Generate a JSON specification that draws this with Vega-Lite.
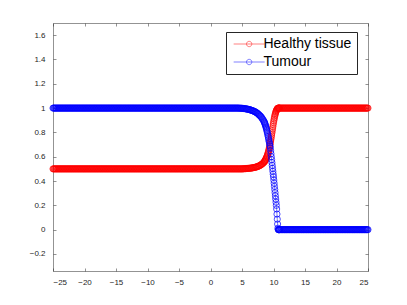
{
"$schema": "https://vega.github.io/schema/vega-lite/v6.json",
"width": 315, "height": 248,
"autosize": {"type": "none"},
"padding": {"left": 53, "top": 23, "right": 39, "bottom": 34},
"background": "white",
"config": {"view": {"stroke": null}, "font": "Liberation Sans"},
"data": {"values": [
{"x":-25,"h":0.5,"t":1},{"x":-24.9,"h":0.5,"t":1},{"x":-24.8,"h":0.5,"t":1},{"x":-24.7,"h":0.5,"t":1},{"x":-24.6,"h":0.5,"t":1},{"x":-24.5,"h":0.5,"t":1},{"x":-24.4,"h":0.5,"t":1},{"x":-24.3,"h":0.5,"t":1},{"x":-24.2,"h":0.5,"t":1},{"x":-24.1,"h":0.5,"t":1},
{"x":-24,"h":0.5,"t":1},{"x":-23.9,"h":0.5,"t":1},{"x":-23.8,"h":0.5,"t":1},{"x":-23.7,"h":0.5,"t":1},{"x":-23.6,"h":0.5,"t":1},{"x":-23.5,"h":0.5,"t":1},{"x":-23.4,"h":0.5,"t":1},{"x":-23.3,"h":0.5,"t":1},{"x":-23.2,"h":0.5,"t":1},{"x":-23.1,"h":0.5,"t":1},
{"x":-23,"h":0.5,"t":1},{"x":-22.9,"h":0.5,"t":1},{"x":-22.8,"h":0.5,"t":1},{"x":-22.7,"h":0.5,"t":1},{"x":-22.6,"h":0.5,"t":1},{"x":-22.5,"h":0.5,"t":1},{"x":-22.4,"h":0.5,"t":1},{"x":-22.3,"h":0.5,"t":1},{"x":-22.2,"h":0.5,"t":1},{"x":-22.1,"h":0.5,"t":1},
{"x":-22,"h":0.5,"t":1},{"x":-21.9,"h":0.5,"t":1},{"x":-21.8,"h":0.5,"t":1},{"x":-21.7,"h":0.5,"t":1},{"x":-21.6,"h":0.5,"t":1},{"x":-21.5,"h":0.5,"t":1},{"x":-21.4,"h":0.5,"t":1},{"x":-21.3,"h":0.5,"t":1},{"x":-21.2,"h":0.5,"t":1},{"x":-21.1,"h":0.5,"t":1},
{"x":-21,"h":0.5,"t":1},{"x":-20.9,"h":0.5,"t":1},{"x":-20.8,"h":0.5,"t":1},{"x":-20.7,"h":0.5,"t":1},{"x":-20.6,"h":0.5,"t":1},{"x":-20.5,"h":0.5,"t":1},{"x":-20.4,"h":0.5,"t":1},{"x":-20.3,"h":0.5,"t":1},{"x":-20.2,"h":0.5,"t":1},{"x":-20.1,"h":0.5,"t":1},
{"x":-20,"h":0.5,"t":1},{"x":-19.9,"h":0.5,"t":1},{"x":-19.8,"h":0.5,"t":1},{"x":-19.7,"h":0.5,"t":1},{"x":-19.6,"h":0.5,"t":1},{"x":-19.5,"h":0.5,"t":1},{"x":-19.4,"h":0.5,"t":1},{"x":-19.3,"h":0.5,"t":1},{"x":-19.2,"h":0.5,"t":1},{"x":-19.1,"h":0.5,"t":1},
{"x":-19,"h":0.5,"t":1},{"x":-18.9,"h":0.5,"t":1},{"x":-18.8,"h":0.5,"t":1},{"x":-18.7,"h":0.5,"t":1},{"x":-18.6,"h":0.5,"t":1},{"x":-18.5,"h":0.5,"t":1},{"x":-18.4,"h":0.5,"t":1},{"x":-18.3,"h":0.5,"t":1},{"x":-18.2,"h":0.5,"t":1},{"x":-18.1,"h":0.5,"t":1},
{"x":-18,"h":0.5,"t":1},{"x":-17.9,"h":0.5,"t":1},{"x":-17.8,"h":0.5,"t":1},{"x":-17.7,"h":0.5,"t":1},{"x":-17.6,"h":0.5,"t":1},{"x":-17.5,"h":0.5,"t":1},{"x":-17.4,"h":0.5,"t":1},{"x":-17.3,"h":0.5,"t":1},{"x":-17.2,"h":0.5,"t":1},{"x":-17.1,"h":0.5,"t":1},
{"x":-17,"h":0.5,"t":1},{"x":-16.9,"h":0.5,"t":1},{"x":-16.8,"h":0.5,"t":1},{"x":-16.7,"h":0.5,"t":1},{"x":-16.6,"h":0.5,"t":1},{"x":-16.5,"h":0.5,"t":1},{"x":-16.4,"h":0.5,"t":1},{"x":-16.3,"h":0.5,"t":1},{"x":-16.2,"h":0.5,"t":1},{"x":-16.1,"h":0.5,"t":1},
{"x":-16,"h":0.5,"t":1},{"x":-15.9,"h":0.5,"t":1},{"x":-15.8,"h":0.5,"t":1},{"x":-15.7,"h":0.5,"t":1},{"x":-15.6,"h":0.5,"t":1},{"x":-15.5,"h":0.5,"t":1},{"x":-15.4,"h":0.5,"t":1},{"x":-15.3,"h":0.5,"t":1},{"x":-15.2,"h":0.5,"t":1},{"x":-15.1,"h":0.5,"t":1},
{"x":-15,"h":0.5,"t":1},{"x":-14.9,"h":0.5,"t":1},{"x":-14.8,"h":0.5,"t":1},{"x":-14.7,"h":0.5,"t":1},{"x":-14.6,"h":0.5,"t":1},{"x":-14.5,"h":0.5,"t":1},{"x":-14.4,"h":0.5,"t":1},{"x":-14.3,"h":0.5,"t":1},{"x":-14.2,"h":0.5,"t":1},{"x":-14.1,"h":0.5,"t":1},
{"x":-14,"h":0.5,"t":1},{"x":-13.9,"h":0.5,"t":1},{"x":-13.8,"h":0.5,"t":1},{"x":-13.7,"h":0.5,"t":1},{"x":-13.6,"h":0.5,"t":1},{"x":-13.5,"h":0.5,"t":1},{"x":-13.4,"h":0.5,"t":1},{"x":-13.3,"h":0.5,"t":1},{"x":-13.2,"h":0.5,"t":1},{"x":-13.1,"h":0.5,"t":1},
{"x":-13,"h":0.5,"t":1},{"x":-12.9,"h":0.5,"t":1},{"x":-12.8,"h":0.5,"t":1},{"x":-12.7,"h":0.5,"t":1},{"x":-12.6,"h":0.5,"t":1},{"x":-12.5,"h":0.5,"t":1},{"x":-12.4,"h":0.5,"t":1},{"x":-12.3,"h":0.5,"t":1},{"x":-12.2,"h":0.5,"t":1},{"x":-12.1,"h":0.5,"t":1},
{"x":-12,"h":0.5,"t":1},{"x":-11.9,"h":0.5,"t":1},{"x":-11.8,"h":0.5,"t":1},{"x":-11.7,"h":0.5,"t":1},{"x":-11.6,"h":0.5,"t":1},{"x":-11.5,"h":0.5,"t":1},{"x":-11.4,"h":0.5,"t":1},{"x":-11.3,"h":0.5,"t":1},{"x":-11.2,"h":0.5,"t":1},{"x":-11.1,"h":0.5,"t":1},
{"x":-11,"h":0.5,"t":1},{"x":-10.9,"h":0.5,"t":1},{"x":-10.8,"h":0.5,"t":1},{"x":-10.7,"h":0.5,"t":1},{"x":-10.6,"h":0.5,"t":1},{"x":-10.5,"h":0.5,"t":1},{"x":-10.4,"h":0.5,"t":1},{"x":-10.3,"h":0.5,"t":1},{"x":-10.2,"h":0.5,"t":1},{"x":-10.1,"h":0.5,"t":1},
{"x":-10,"h":0.5,"t":1},{"x":-9.9,"h":0.5,"t":1},{"x":-9.8,"h":0.5,"t":1},{"x":-9.7,"h":0.5,"t":1},{"x":-9.6,"h":0.5,"t":1},{"x":-9.5,"h":0.5,"t":1},{"x":-9.4,"h":0.5,"t":1},{"x":-9.3,"h":0.5,"t":1},{"x":-9.2,"h":0.5,"t":1},{"x":-9.1,"h":0.5,"t":1},
{"x":-9,"h":0.5,"t":1},{"x":-8.9,"h":0.5,"t":1},{"x":-8.8,"h":0.5,"t":1},{"x":-8.7,"h":0.5,"t":1},{"x":-8.6,"h":0.5,"t":1},{"x":-8.5,"h":0.5,"t":1},{"x":-8.4,"h":0.5,"t":1},{"x":-8.3,"h":0.5,"t":1},{"x":-8.2,"h":0.5,"t":1},{"x":-8.1,"h":0.5,"t":1},
{"x":-8,"h":0.5,"t":1},{"x":-7.9,"h":0.5,"t":1},{"x":-7.8,"h":0.5,"t":1},{"x":-7.7,"h":0.5,"t":1},{"x":-7.6,"h":0.5,"t":1},{"x":-7.5,"h":0.5,"t":1},{"x":-7.4,"h":0.5,"t":1},{"x":-7.3,"h":0.5,"t":1},{"x":-7.2,"h":0.5,"t":1},{"x":-7.1,"h":0.5,"t":1},
{"x":-7,"h":0.5,"t":1},{"x":-6.9,"h":0.5,"t":1},{"x":-6.8,"h":0.5,"t":1},{"x":-6.7,"h":0.5,"t":1},{"x":-6.6,"h":0.5,"t":1},{"x":-6.5,"h":0.5,"t":1},{"x":-6.4,"h":0.5,"t":1},{"x":-6.3,"h":0.5,"t":1},{"x":-6.2,"h":0.5,"t":1},{"x":-6.1,"h":0.5,"t":1},
{"x":-6,"h":0.5,"t":1},{"x":-5.9,"h":0.5,"t":1},{"x":-5.8,"h":0.5,"t":1},{"x":-5.7,"h":0.5,"t":1},{"x":-5.6,"h":0.5,"t":1},{"x":-5.5,"h":0.5,"t":1},{"x":-5.4,"h":0.5,"t":1},{"x":-5.3,"h":0.5,"t":1},{"x":-5.2,"h":0.5,"t":1},{"x":-5.1,"h":0.5,"t":1},
{"x":-5,"h":0.5,"t":1},{"x":-4.9,"h":0.5,"t":1},{"x":-4.8,"h":0.5,"t":1},{"x":-4.7,"h":0.5,"t":1},{"x":-4.6,"h":0.5,"t":1},{"x":-4.5,"h":0.5,"t":1},{"x":-4.4,"h":0.5,"t":1},{"x":-4.3,"h":0.5,"t":1},{"x":-4.2,"h":0.5,"t":1},{"x":-4.1,"h":0.5,"t":1},
{"x":-4,"h":0.5,"t":1},{"x":-3.9,"h":0.5,"t":1},{"x":-3.8,"h":0.5,"t":1},{"x":-3.7,"h":0.5,"t":1},{"x":-3.6,"h":0.5,"t":1},{"x":-3.5,"h":0.5,"t":1},{"x":-3.4,"h":0.5,"t":1},{"x":-3.3,"h":0.5,"t":1},{"x":-3.2,"h":0.5,"t":1},{"x":-3.1,"h":0.5,"t":1},
{"x":-3,"h":0.5,"t":1},{"x":-2.9,"h":0.5,"t":1},{"x":-2.8,"h":0.5,"t":1},{"x":-2.7,"h":0.5,"t":1},{"x":-2.6,"h":0.5,"t":1},{"x":-2.5,"h":0.5,"t":1},{"x":-2.4,"h":0.5,"t":1},{"x":-2.3,"h":0.5,"t":1},{"x":-2.2,"h":0.5,"t":1},{"x":-2.1,"h":0.5,"t":1},
{"x":-2,"h":0.5,"t":1},{"x":-1.9,"h":0.5,"t":1},{"x":-1.8,"h":0.5,"t":1},{"x":-1.7,"h":0.5,"t":1},{"x":-1.6,"h":0.5,"t":1},{"x":-1.5,"h":0.5,"t":1},{"x":-1.4,"h":0.5,"t":1},{"x":-1.3,"h":0.5,"t":1},{"x":-1.2,"h":0.5,"t":1},{"x":-1.1,"h":0.5,"t":1},
{"x":-1,"h":0.5,"t":1},{"x":-0.9,"h":0.5,"t":1},{"x":-0.8,"h":0.5,"t":1},{"x":-0.7,"h":0.5,"t":1},{"x":-0.6,"h":0.5,"t":1},{"x":-0.5,"h":0.5,"t":1},{"x":-0.4,"h":0.5,"t":1},{"x":-0.3,"h":0.5,"t":1},{"x":-0.2,"h":0.5,"t":1},{"x":-0.1,"h":0.5,"t":1},
{"x":0,"h":0.5,"t":1},{"x":0.1,"h":0.5,"t":1},{"x":0.2,"h":0.5,"t":1},{"x":0.3,"h":0.5,"t":1},{"x":0.4,"h":0.5,"t":1},{"x":0.5,"h":0.5,"t":1},{"x":0.6,"h":0.5,"t":1},{"x":0.7,"h":0.5,"t":1},{"x":0.8,"h":0.5,"t":1},{"x":0.9,"h":0.5,"t":1},
{"x":1,"h":0.5,"t":1},{"x":1.1,"h":0.5,"t":1},{"x":1.2,"h":0.5,"t":1},{"x":1.3,"h":0.5,"t":1},{"x":1.4,"h":0.5,"t":1},{"x":1.5,"h":0.5,"t":1},{"x":1.6,"h":0.5,"t":1},{"x":1.7,"h":0.5,"t":1},{"x":1.8,"h":0.5,"t":1},{"x":1.9,"h":0.5,"t":1},
{"x":2,"h":0.5,"t":1},{"x":2.1,"h":0.5,"t":1},{"x":2.2,"h":0.5,"t":1},{"x":2.3,"h":0.5,"t":1},{"x":2.4,"h":0.5,"t":1},{"x":2.5,"h":0.5,"t":1},{"x":2.6,"h":0.5,"t":1},{"x":2.7,"h":0.5,"t":1},{"x":2.8,"h":0.5,"t":1},{"x":2.9,"h":0.5,"t":1},
{"x":3,"h":0.5,"t":1},{"x":3.1,"h":0.5,"t":1},{"x":3.2,"h":0.5,"t":1},{"x":3.3,"h":0.5,"t":1},{"x":3.4,"h":0.5,"t":1},{"x":3.5,"h":0.5,"t":1},{"x":3.6,"h":0.5,"t":1},{"x":3.7,"h":0.5,"t":1},{"x":3.8,"h":0.5,"t":1},{"x":3.9,"h":0.5,"t":1},
{"x":4,"h":0.5,"t":1},{"x":4.1,"h":0.5,"t":1},{"x":4.2,"h":0.5,"t":1},{"x":4.3,"h":0.5,"t":1},{"x":4.4,"h":0.5,"t":1},{"x":4.5,"h":0.5,"t":1},{"x":4.6,"h":0.5,"t":0.999},{"x":4.7,"h":0.5,"t":0.999},{"x":4.8,"h":0.5,"t":0.999},{"x":4.9,"h":0.5,"t":0.999},
{"x":5.0,"h":0.5,"t":0.998},{"x":5.1,"h":0.5,"t":0.998},{"x":5.2,"h":0.501,"t":0.997},{"x":5.3,"h":0.501,"t":0.996},{"x":5.4,"h":0.502,"t":0.996},{"x":5.5,"h":0.502,"t":0.995},{"x":5.6,"h":0.502,"t":0.994},{"x":5.7,"h":0.503,"t":0.993},{"x":5.8,"h":0.503,"t":0.992},{"x":5.9,"h":0.504,"t":0.991},{"x":6.0,"h":0.504,"t":0.99},{"x":6.1,"h":0.505,"t":0.989},{"x":6.2,"h":0.505,"t":0.987},{"x":6.3,"h":0.506,"t":0.986},{"x":6.4,"h":0.506,"t":0.984},{"x":6.5,"h":0.507,"t":0.982},{"x":6.6,"h":0.508,"t":0.98},{"x":6.7,"h":0.509,"t":0.978},{"x":6.8,"h":0.51,"t":0.976},{"x":6.9,"h":0.511,"t":0.974},{"x":7.0,"h":0.512,"t":0.972},{"x":7.1,"h":0.513,"t":0.969},{"x":7.2,"h":0.515,"t":0.966},{"x":7.3,"h":0.516,"t":0.962},{"x":7.4,"h":0.518,"t":0.959},{"x":7.5,"h":0.52,"t":0.955},{"x":7.6,"h":0.522,"t":0.95},{"x":7.7,"h":0.524,"t":0.945},{"x":7.8,"h":0.527,"t":0.94},{"x":7.9,"h":0.53,"t":0.935},{"x":8.0,"h":0.533,"t":0.93},{"x":8.1,"h":0.537,"t":0.923},{"x":8.2,"h":0.541,"t":0.915},{"x":8.3,"h":0.545,"t":0.907},{"x":8.4,"h":0.55,"t":0.899},
{"x":8.5,"h":0.555,"t":0.89},{"x":8.55,"h":0.559,"t":0.884},{"x":8.6,"h":0.563,"t":0.877},{"x":8.65,"h":0.567,"t":0.87},{"x":8.7,"h":0.572,"t":0.862},{"x":8.75,"h":0.577,"t":0.854},{"x":8.8,"h":0.582,"t":0.845},{"x":8.85,"h":0.588,"t":0.836},{"x":8.9,"h":0.594,"t":0.826},{"x":8.95,"h":0.6,"t":0.815},{"x":9.0,"h":0.607,"t":0.804},{"x":9.05,"h":0.615,"t":0.792},{"x":9.1,"h":0.623,"t":0.78},{"x":9.15,"h":0.632,"t":0.767},{"x":9.2,"h":0.642,"t":0.754},{"x":9.25,"h":0.652,"t":0.74},{"x":9.3,"h":0.663,"t":0.727},{"x":9.35,"h":0.675,"t":0.714},{"x":9.4,"h":0.688,"t":0.7},{"x":9.45,"h":0.701,"t":0.686},{"x":9.5,"h":0.715,"t":0.672},{"x":9.55,"h":0.73,"t":0.648},{"x":9.6,"h":0.746,"t":0.624},{"x":9.65,"h":0.762,"t":0.6},{"x":9.7,"h":0.779,"t":0.576},{"x":9.75,"h":0.796,"t":0.552},{"x":9.8,"h":0.813,"t":0.528},{"x":9.85,"h":0.83,"t":0.504},{"x":9.9,"h":0.847,"t":0.48},{"x":9.95,"h":0.864,"t":0.456},{"x":10.0,"h":0.88,"t":0.434},{"x":10.05,"h":0.895,"t":0.408},{"x":10.1,"h":0.909,"t":0.382},{"x":10.15,"h":0.922,"t":0.356},{"x":10.2,"h":0.934,"t":0.33},{"x":10.25,"h":0.945,"t":0.304},{"x":10.3,"h":0.955,"t":0.278},{"x":10.35,"h":0.964,"t":0.252},{"x":10.4,"h":0.972,"t":0.226},{"x":10.45,"h":0.979,"t":0.2},{"x":10.5,"h":0.985,"t":0.17},{"x":10.55,"h":0.99,"t":0.128},{"x":10.6,"h":0.994,"t":0.086},{"x":10.65,"h":0.997,"t":0.046},{"x":10.7,"h":0.999,"t":0.012},{"x":10.75,"h":1,"t":0},{"x":10.8,"h":1,"t":0},{"x":10.85,"h":1,"t":0},{"x":10.9,"h":1,"t":0},{"x":10.95,"h":1,"t":0},
{"x":11,"h":1,"t":0},{"x":11.1,"h":1,"t":0},{"x":11.2,"h":1,"t":0},{"x":11.3,"h":1,"t":0},{"x":11.4,"h":1,"t":0},{"x":11.5,"h":1,"t":0},{"x":11.6,"h":1,"t":0},{"x":11.7,"h":1,"t":0},{"x":11.8,"h":1,"t":0},{"x":11.9,"h":1,"t":0},
{"x":12,"h":1,"t":0},{"x":12.1,"h":1,"t":0},{"x":12.2,"h":1,"t":0},{"x":12.3,"h":1,"t":0},{"x":12.4,"h":1,"t":0},{"x":12.5,"h":1,"t":0},{"x":12.6,"h":1,"t":0},{"x":12.7,"h":1,"t":0},{"x":12.8,"h":1,"t":0},{"x":12.9,"h":1,"t":0},
{"x":13,"h":1,"t":0},{"x":13.1,"h":1,"t":0},{"x":13.2,"h":1,"t":0},{"x":13.3,"h":1,"t":0},{"x":13.4,"h":1,"t":0},{"x":13.5,"h":1,"t":0},{"x":13.6,"h":1,"t":0},{"x":13.7,"h":1,"t":0},{"x":13.8,"h":1,"t":0},{"x":13.9,"h":1,"t":0},
{"x":14,"h":1,"t":0},{"x":14.1,"h":1,"t":0},{"x":14.2,"h":1,"t":0},{"x":14.3,"h":1,"t":0},{"x":14.4,"h":1,"t":0},{"x":14.5,"h":1,"t":0},{"x":14.6,"h":1,"t":0},{"x":14.7,"h":1,"t":0},{"x":14.8,"h":1,"t":0},{"x":14.9,"h":1,"t":0},
{"x":15,"h":1,"t":0},{"x":15.1,"h":1,"t":0},{"x":15.2,"h":1,"t":0},{"x":15.3,"h":1,"t":0},{"x":15.4,"h":1,"t":0},{"x":15.5,"h":1,"t":0},{"x":15.6,"h":1,"t":0},{"x":15.7,"h":1,"t":0},{"x":15.8,"h":1,"t":0},{"x":15.9,"h":1,"t":0},
{"x":16,"h":1,"t":0},{"x":16.1,"h":1,"t":0},{"x":16.2,"h":1,"t":0},{"x":16.3,"h":1,"t":0},{"x":16.4,"h":1,"t":0},{"x":16.5,"h":1,"t":0},{"x":16.6,"h":1,"t":0},{"x":16.7,"h":1,"t":0},{"x":16.8,"h":1,"t":0},{"x":16.9,"h":1,"t":0},
{"x":17,"h":1,"t":0},{"x":17.1,"h":1,"t":0},{"x":17.2,"h":1,"t":0},{"x":17.3,"h":1,"t":0},{"x":17.4,"h":1,"t":0},{"x":17.5,"h":1,"t":0},{"x":17.6,"h":1,"t":0},{"x":17.7,"h":1,"t":0},{"x":17.8,"h":1,"t":0},{"x":17.9,"h":1,"t":0},
{"x":18,"h":1,"t":0},{"x":18.1,"h":1,"t":0},{"x":18.2,"h":1,"t":0},{"x":18.3,"h":1,"t":0},{"x":18.4,"h":1,"t":0},{"x":18.5,"h":1,"t":0},{"x":18.6,"h":1,"t":0},{"x":18.7,"h":1,"t":0},{"x":18.8,"h":1,"t":0},{"x":18.9,"h":1,"t":0},
{"x":19,"h":1,"t":0},{"x":19.1,"h":1,"t":0},{"x":19.2,"h":1,"t":0},{"x":19.3,"h":1,"t":0},{"x":19.4,"h":1,"t":0},{"x":19.5,"h":1,"t":0},{"x":19.6,"h":1,"t":0},{"x":19.7,"h":1,"t":0},{"x":19.8,"h":1,"t":0},{"x":19.9,"h":1,"t":0},
{"x":20,"h":1,"t":0},{"x":20.1,"h":1,"t":0},{"x":20.2,"h":1,"t":0},{"x":20.3,"h":1,"t":0},{"x":20.4,"h":1,"t":0},{"x":20.5,"h":1,"t":0},{"x":20.6,"h":1,"t":0},{"x":20.7,"h":1,"t":0},{"x":20.8,"h":1,"t":0},{"x":20.9,"h":1,"t":0},
{"x":21,"h":1,"t":0},{"x":21.1,"h":1,"t":0},{"x":21.2,"h":1,"t":0},{"x":21.3,"h":1,"t":0},{"x":21.4,"h":1,"t":0},{"x":21.5,"h":1,"t":0},{"x":21.6,"h":1,"t":0},{"x":21.7,"h":1,"t":0},{"x":21.8,"h":1,"t":0},{"x":21.9,"h":1,"t":0},
{"x":22,"h":1,"t":0},{"x":22.1,"h":1,"t":0},{"x":22.2,"h":1,"t":0},{"x":22.3,"h":1,"t":0},{"x":22.4,"h":1,"t":0},{"x":22.5,"h":1,"t":0},{"x":22.6,"h":1,"t":0},{"x":22.7,"h":1,"t":0},{"x":22.8,"h":1,"t":0},{"x":22.9,"h":1,"t":0},
{"x":23,"h":1,"t":0},{"x":23.1,"h":1,"t":0},{"x":23.2,"h":1,"t":0},{"x":23.3,"h":1,"t":0},{"x":23.4,"h":1,"t":0},{"x":23.5,"h":1,"t":0},{"x":23.6,"h":1,"t":0},{"x":23.7,"h":1,"t":0},{"x":23.8,"h":1,"t":0},{"x":23.9,"h":1,"t":0},
{"x":24,"h":1,"t":0},{"x":24.1,"h":1,"t":0},{"x":24.2,"h":1,"t":0},{"x":24.3,"h":1,"t":0},{"x":24.4,"h":1,"t":0},{"x":24.5,"h":1,"t":0},{"x":24.6,"h":1,"t":0},{"x":24.7,"h":1,"t":0},{"x":24.8,"h":1,"t":0},{"x":24.9,"h":1,"t":0},
{"x":25,"h":1,"t":0}
]},
"transform": [{"fold": ["h", "t"], "as": ["series", "value"]}],
"encoding": {
  "x": {"field": "x", "type": "quantitative", "scale": {"domain": [-25, 25], "nice": false, "zero": false}},
  "y": {"field": "value", "type": "quantitative", "scale": {"domain": [-0.34, 1.7], "nice": false, "zero": false}},
  "color": {"field": "series", "type": "nominal",
    "scale": {"domain": ["h", "t"], "range": ["#ff0000", "#0000ff"]},
    "legend": {"title": null, "orient": "none", "legendX": 173, "legendY": 9,
      "labelExpr": "datum.value == 'h' ? 'Healthy tissue' : 'Tumour'",
      "symbolType": "M-3.875,0H3.875M0.675,0A0.675,0.675,0,1,1,-0.675,0A0.675,0.675,0,1,1,0.675,0",
      "symbolSize": 64, "symbolStrokeWidth": 0.7, "symbolFillColor": "transparent", "symbolOffset": 11.15,
      "labelFont": "Liberation Sans", "labelFontSize": 14, "labelColor": "#000000", "labelOffset": 7.3,
      "strokeColor": "#262626", "fillColor": "#ffffff", "padding": 5, "rowPadding": 4, "cornerRadius": 0}}
},
"layer": [
  {"mark": {"type": "line", "strokeWidth": 0.5},
   "encoding": {
     "x": {"field": "x", "type": "quantitative", "axis": {"orient": "bottom", "values": [-25,-20,-15,-10,-5,0,5,10,15,20,25], "grid": false, "title": null, "tickSize": -3, "labelFontSize": 8, "labelFont": "Liberation Sans", "labelColor": "#262626", "labelPadding": 10, "domainColor": "#262626", "domainWidth": 0.5, "tickColor": "#262626", "tickWidth": 0.5}},
     "y": {"field": "value", "type": "quantitative", "axis": {"orient": "left", "values": [-0.2,0,0.2,0.4,0.6,0.8,1,1.2,1.4,1.6], "format": "~g", "grid": false, "title": null, "tickSize": -3, "labelFontSize": 8, "labelFont": "Liberation Sans", "labelColor": "#262626", "labelPadding": 11, "domainColor": "#262626", "domainWidth": 0.5, "tickColor": "#262626", "tickWidth": 0.5}}
   }},
  {"mark": {"type": "point", "shape": "circle", "filled": false, "size": 38, "strokeWidth": 1},
   "encoding": {
     "order": {"field": "series", "sort": "ascending"},
     "x": {"field": "x", "type": "quantitative", "axis": {"orient": "top", "values": [-25,-20,-15,-10,-5,0,5,10,15,20,25], "labels": false, "grid": false, "title": null, "tickSize": -3, "domainColor": "#262626", "domainWidth": 0.5, "tickColor": "#262626", "tickWidth": 0.5}},
     "y": {"field": "value", "type": "quantitative", "axis": {"orient": "right", "values": [-0.2,0,0.2,0.4,0.6,0.8,1,1.2,1.4,1.6], "labels": false, "grid": false, "title": null, "tickSize": -3, "domainColor": "#262626", "domainWidth": 0.5, "tickColor": "#262626", "tickWidth": 0.5}}
   }}
],
"resolve": {"axis": {"x": "independent", "y": "independent"}}
}
